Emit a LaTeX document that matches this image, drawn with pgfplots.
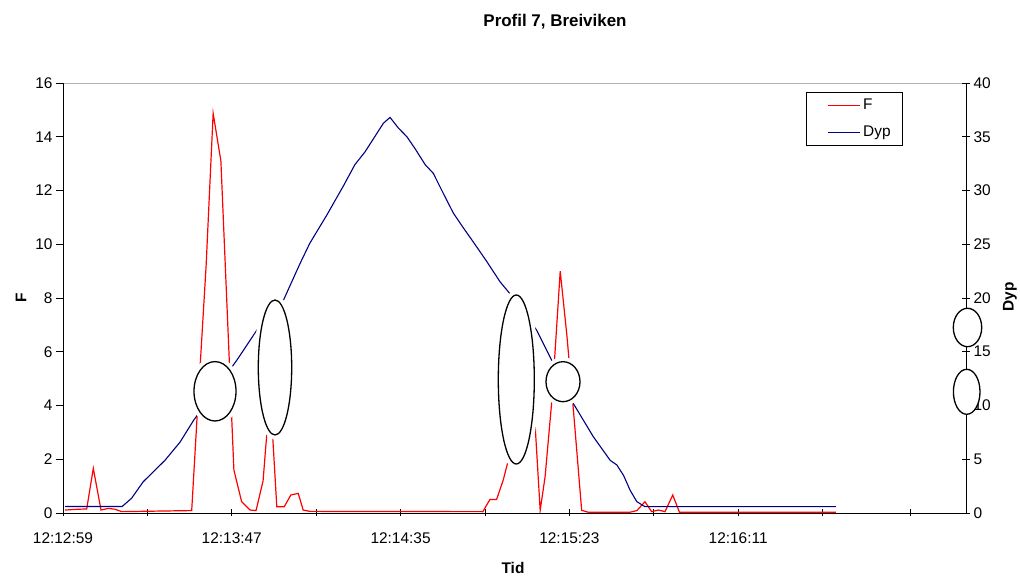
\documentclass[border=0pt]{standalone}
\usepackage{pgfplots}
\pgfplotsset{compat=1.18}
\usepackage{pgfplotstable}
\usepackage{fontspec}
\setmainfont{Liberation Sans}
\definecolor{fred}{RGB}{255,0,0}
\definecolor{fblue}{RGB}{0,0,128}

\pgfplotstableread{
t F
0.57 0.11
4.35 0.14
6.74 0.15
8.62 1.66
10.81 0.11
12.88 0.17
14.79 0.14
16.69 0.05
36.6 0.09
38.1 3.5
40.7 9.2
42.7 14.87
44.9 13.1
48.6 1.6
50.8 0.42
53.2 0.11
54.9 0.09
56.9 1.2
58.9 4.5
60.8 0.23
62.9 0.23
64.8 0.67
66.9 0.73
68.3 0.11
70.2 0.06
119.4 0.05
121.4 0.5
123.3 0.5
125.2 1.23
127.1 2.2
129.1 1.8
131.1 3.0
133.7 4.5
135.7 0.1
137.1 1.35
139.1 4.3
141.4 9.0
143.3 6.6
145.3 3.6
147.5 0.1
149.3 0.03
161.3 0.03
163.2 0.09
165.5 0.42
167.4 0.05
169.3 0.11
171.2 0.05
173.4 0.67
175.3 0.03
219.8 0.03
}\tabF

\pgfplotstableread{
t D
0.57 0.6
16.8 0.6
19.5 1.37
22.8 2.9
26.2 4.0
29.0 4.9
33.3 6.6
37.1 8.6
49.4 14.2
55.1 17.0
62.7 19.8
67.4 23.2
70.2 25.1
75.0 27.7
79.7 30.4
83.0 32.4
85.9 33.6
91.1 36.25
93.0 36.8
95.4 35.8
97.8 35.0
100.1 33.9
103.0 32.4
105.3 31.6
108.2 29.7
111.0 27.9
113.9 26.5
116.7 25.2
120.5 23.4
124.3 21.5
127.1 20.4
134.7 17.0
139.0 14.2
145.1 10.2
150.8 7.1
155.6 4.9
157.5 4.47
159.4 3.5
161.3 2.1
163.2 1.05
165.5 0.59
219.8 0.59
}\tabD

\begin{document}
\begin{tikzpicture}[x=1bp,y=1bp]
\path[use as bounding box] (0,0) rectangle (1020,577);
\draw[gray!60, line width=0.8bp] (63,494) -- (966,494);
\begin{axis}[
  at={(63bp,64bp)}, anchor=south west,
  scale only axis, width=903bp, height=430bp,
  xmin=0, xmax=256.8, ymin=0, ymax=16,
  axis x line*=bottom, axis y line*=left,
  axis line style={black, line width=0.8bp, -},
  every tick/.style={black, line width=0.8bp},
  major tick length=7bp,
  xtick={0,24,48,72,96,120,144,168,192,216,241},
  xticklabels={12:12:59,,12:13:47,,12:14:35,,12:15:23,,12:16:11,,},
  xtick align=center, ytick align=outside,
  ytick={0,2,...,16},
  ticklabel style={font=\fontsize{15.5}{18}\selectfont},
  /pgf/number format/assume math mode=true,
  xticklabel style={yshift=-13bp},
  no markers,
]
\addplot[fred, line width=1.2bp] table[x=t, y=F] {\tabF};
\end{axis}
\begin{axis}[
  at={(63bp,64bp)}, anchor=south west,
  scale only axis, width=903bp, height=430bp,
  xmin=0, xmax=256.8, ymin=0, ymax=40,
  axis x line=none, axis y line*=right,
  axis line style={black, line width=0.8bp, -},
  every tick/.style={black, line width=0.8bp},
  major tick length=8bp,
  ytick align=center,
  ytick={0,5,...,40},
  ticklabel style={font=\fontsize{15.5}{18}\selectfont},
  /pgf/number format/assume math mode=true,
  no markers,
  legend image code/.code={\path[draw=none, fill=none] (0bp,-12bp) rectangle (1bp,12bp); \draw[#1, line width=1.5bp] (12bp,0bp) -- (44bp,0bp);},
  legend style={at={(0.8228,0.979)}, anchor=north west, draw=black, line width=0.8bp,
    fill=white, font=\fontsize{15.5}{18}\selectfont, legend cell align=left,
    inner xsep=10bp, inner ysep=1bp, row sep=3bp},
]
\addlegendimage{fred}
\addlegendentry{F}
\addplot[fblue, line width=1.1bp] table[x=t, y=D] {\tabD};
\addlegendentry{Dyp}
\end{axis}
\node[font=\bfseries\fontsize{17}{20}\selectfont] at (555,555) {Profil 7, Breiviken};
\node[font=\bfseries\fontsize{15.5}{18}\selectfont] at (513,9) {Tid};
\node[font=\bfseries\fontsize{15.5}{18}\selectfont, rotate=90] at (21,279) {F};
\node[font=\bfseries\fontsize{15.5}{18}\selectfont, rotate=90] at (1010,280) {Dyp};
\foreach \cx/\cy/\a/\b in {215/185.7/21/29.7, 275/209.5/16.7/67.5, 516.3/197.5/18/84.5, 563/195.3/17/20}{
  \draw[white, line width=9bp] (\cx,\cy) ellipse [x radius=\a, y radius=\b];
  \filldraw[fill=white, draw=black, line width=1.3bp] (\cx,\cy) ellipse [x radius=\a, y radius=\b];
}
\foreach \cx/\cy/\a/\b in {967.5/249.5/14.2/19.2, 966.7/185.2/13.3/22.5}{
  \filldraw[fill=white, draw=black, line width=1.3bp] (\cx,\cy) ellipse [x radius=\a, y radius=\b];
}
\end{tikzpicture}
\end{document}
